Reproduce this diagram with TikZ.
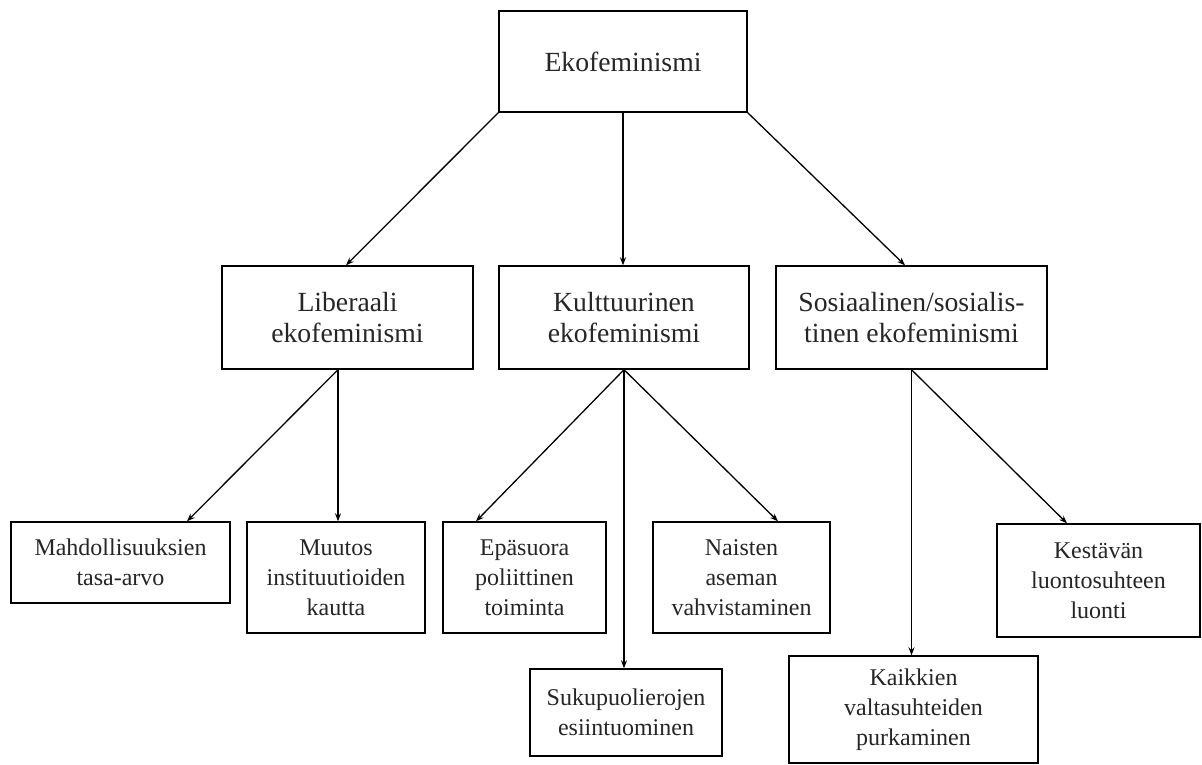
\documentclass[tikz,border=0pt]{standalone}
\usepackage{fontspec}
\setmainfont{Liberation Serif}
\usetikzlibrary{arrows.meta,calc}
\begin{document}
\begin{tikzpicture}[x=1pt,y=-1pt,
  box/.style={draw=black,line width=1.4pt,inner sep=0pt,align=center,text=black!85},
  big/.style={box,font=\fontsize{27.7}{31}\selectfont},
  small/.style={box,font=\fontsize{24}{30}\selectfont},
  arr/.style={line width=1.3pt,-{Stealth[length=8pt,width=6pt]}}]
\useasboundingbox (0,0) rectangle (1202,764);
\fill[white] (0,0) rectangle (1202,764);
% level 1
\node[big,minimum width=248pt,minimum height=101pt] (top) at (623,61.5) {Ekofeminismi};
% level 2
\node[big,minimum width=251pt,minimum height=103pt] (lib) at (347.5,317.5) {Liberaali\\ekofeminismi};
\node[big,minimum width=250pt,minimum height=103pt] (kult) at (624,317.5) {Kulttuurinen\\ekofeminismi};
\node[big,minimum width=271pt,minimum height=103pt] (sos) at (911.5,317.5) {Sosiaalinen/sosialis-\\tinen ekofeminismi};
% level 3
\node[small,minimum width=219pt,minimum height=81pt] (mahd) at (120.5,562.5) {Mahdollisuuksien\\tasa-arvo};
\node[small,minimum width=178pt,minimum height=111pt] (muut) at (336,577.5) {Muutos\\instituutioiden\\kautta};
\node[small,minimum width=163pt,minimum height=111pt] (epa) at (524.5,577.5) {Epäsuora\\poliittinen\\toiminta};
\node[small,minimum width=177pt,minimum height=111pt] (nais) at (741.5,577.5) {Naisten\\aseman\\vahvistaminen};
\node[small,minimum width=192pt,minimum height=87pt] (suku) at (626,712.5) {Sukupuolierojen\\esiintuominen};
\node[small,minimum width=249pt,minimum height=107pt] (kaik) at (913.5,709.5) {Kaikkien\\valtasuhteiden\\purkaminen};
\node[small,minimum width=203pt,minimum height=113pt] (kest) at (1098.5,580.5) {Kestävän\\luontosuhteen\\luonti};
% connectors
\coordinate (libS) at ([xshift=-9.5pt]lib.south);
\draw[arr] (top.south west) -- ([xshift=-1.5pt]lib.north);
\draw[arr] (top.south) -- (top.south |- kult.north);
\draw[arr] (top.south east) -- ([xshift=-6.5pt]sos.north);
\draw[arr] (libS) -- ([xshift=66.5pt]mahd.north);
\draw[arr] (libS) -- (libS |- muut.north);
\draw[arr] (kult.south) -- ([xshift=-48.5pt]epa.north);
\draw[arr] (kult.south) -- (kult.south |- suku.north);
\draw[arr] (kult.south) -- ([xshift=36.5pt]nais.north);
\draw[arr] (sos.south) -- (sos.south |- kaik.north);
\draw[arr] (sos.south) -- ([xshift=-31.5pt]kest.north);
\end{tikzpicture}
\end{document}
